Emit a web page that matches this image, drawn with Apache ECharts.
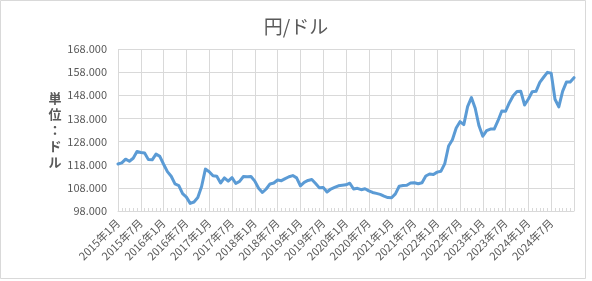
<!DOCTYPE html>
<html>
<head>
<meta charset="utf-8">
<script src="https://cdn.jsdelivr.net/npm/echarts@6/dist/echarts.min.js"></script>
<style>
html,body{margin:0;padding:0;background:#fff;}
#c{width:592px;height:281px;}
</style>
</head>
<body>
<div id="c"></div>
<script>
// Months from 2015年1月 to 2025年1月
const years = [2015,2016,2017,2018,2019,2020,2021,2022,2023,2024,2025];
const categories = [];
years.forEach(y => { for (let m = 1; m <= 12; m++) { if (y === 2025 && m > 1) break; categories.push(y + '年' + m + '月'); } });

const values2015 = [118.3,118.8,120.4,119.5,120.8,123.7,123.3,123.1,120.2,120.1,122.6,121.6];
const values2016 = [118.2,115.0,113.0,109.7,109.0,105.5,104.0,101.3,101.9,103.8,108.6,116.1];
const values2017 = [115.0,113.2,113.0,110.1,112.3,110.9,112.4,109.9,110.8,112.9,112.8,112.9];
const values2018 = [110.9,107.8,106.0,107.5,109.7,110.1,111.4,111.1,112.0,112.8,113.3,112.3];
const values2019 = [108.9,110.4,111.2,111.6,109.9,108.0,108.2,106.2,107.5,108.2,108.9,109.1];
const values2020 = [109.3,110.0,107.5,107.8,107.2,107.6,106.7,106.0,105.6,105.2,104.4,103.8];
const values2021 = [103.7,105.4,108.7,109.0,109.1,110.1,110.2,109.8,110.2,113.1,114.0,113.8];
const values2022 = [114.8,115.2,118.5,126.1,128.8,133.9,136.6,135.3,143.1,147.0,142.4,134.8];
const values2023 = [130.3,132.7,133.4,133.4,137.0,141.2,141.1,144.8,147.8,149.6,149.7,143.8];
const values2024 = [146.4,149.5,149.7,153.6,155.8,157.9,157.5,146.3,143.0,149.7,153.7,153.7];
const values2025 = [155.6];
const values = [].concat(values2015,values2016,values2017,values2018,values2019,values2020,values2021,values2022,values2023,values2024,values2025);

const yTicks = [98,108,118,128,138,148,158,168];

const FONT = '"Noto Sans CJK JP", "Noto Sans", sans-serif';
const chart = echarts.init(document.getElementById('c'), null, {renderer:'canvas'});
chart.setOption({
  animation:false,
  backgroundColor:'#fff',
  title:{
    text:'円/ドル', left:'center', top:12,
    textStyle:{fontFamily:FONT, fontSize:19, fontWeight:'normal', color:'#595959'}
  },
  grid:{left:118, right:18, top:49, bottom:70, containLabel:false},
  xAxis:{
    type:'category', data:categories, boundaryGap:false,
    axisLine:{show:true, lineStyle:{color:'#d9d9d9', width:1}},
    axisTick:{show:true, interval:0, inside:true, length:3, lineStyle:{color:'#d9d9d9'}},
    axisLabel:{
      interval:(i)=> i%6===0 && i<120,
      rotate:45, margin:10, fontFamily:FONT, fontSize:11, color:'#595959'
    },
    splitLine:{show:true, interval:5, lineStyle:{color:'#d9d9d9', width:1}}
  },
  yAxis:{
    type:'value', min:yTicks[0], max:yTicks[yTicks.length-1], interval:10,
    name:'単\n位\n：\nド\nル', nameLocation:'middle', nameRotate:0, nameGap:57,
    nameTextStyle:{fontFamily:FONT, fontSize:13, fontWeight:'bold', color:'#595959', lineHeight:16, align:'center'},
    axisLine:{show:false}, axisTick:{show:false},
    axisLabel:{fontFamily:FONT, fontSize:11, color:'#595959', margin:11, formatter:(v)=>v.toFixed(3)},
    splitLine:{show:true, lineStyle:{color:'#d9d9d9', width:1}}
  },
  graphic:[{type:'rect', silent:true, shape:{x:0.5,y:0.5,width:585,height:278}, style:{fill:'none', stroke:'#d9d9d9', lineWidth:1}}],
  series:[{
    type:'line', data:values, showSymbol:false, symbol:'none',
    lineStyle:{color:'#5b9bd5', width:3, cap:'round', join:'round'},
    itemStyle:{color:'#5b9bd5'}
  }]
});
</script>
</body>
</html>
